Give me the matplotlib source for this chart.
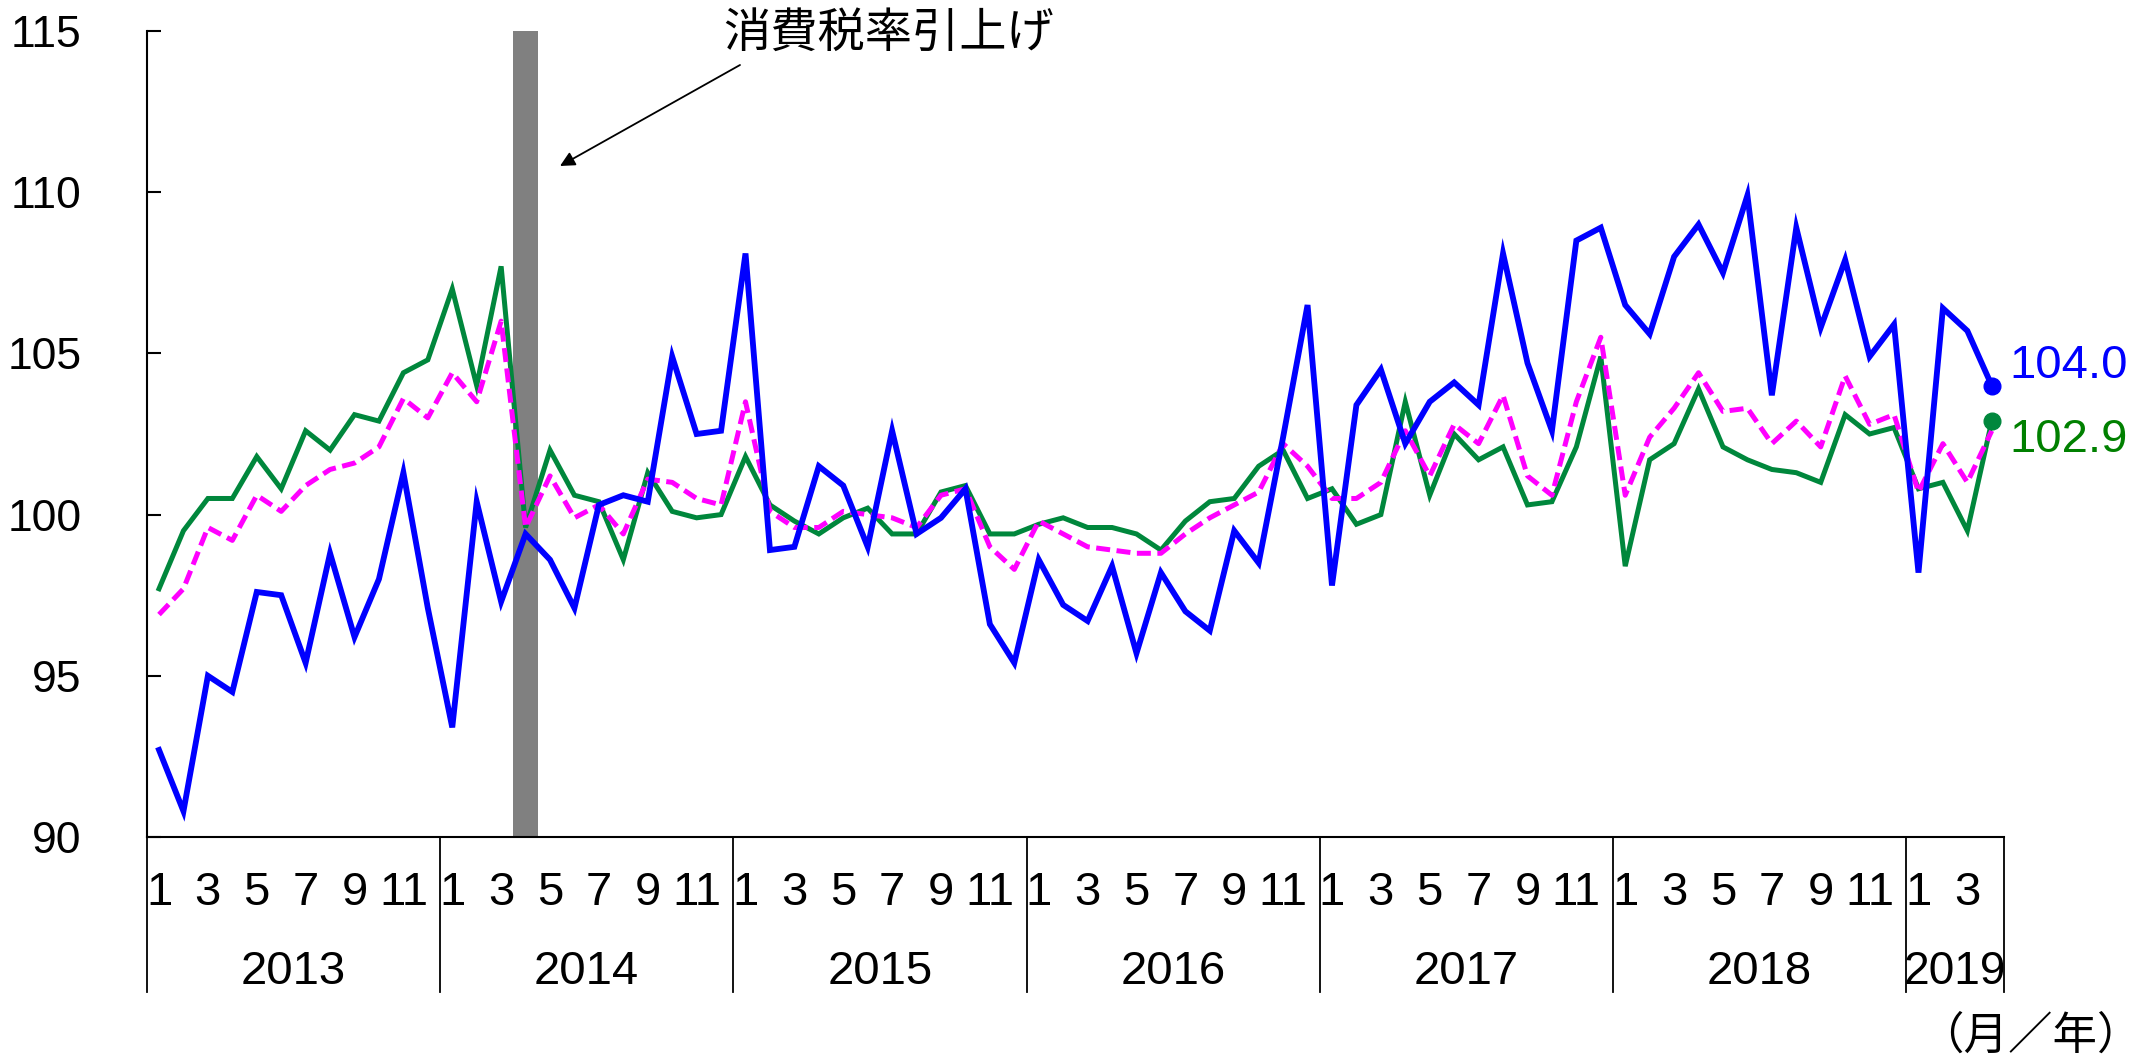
import numpy as np
import matplotlib
matplotlib.use('Agg')
import matplotlib.pyplot as plt
from matplotlib import font_manager
from matplotlib.transforms import blended_transform_factory

# ---------------- data ----------------
years = [2013, 2014, 2015, 2016, 2017, 2018, 2019]
months_per_year = [12, 12, 12, 12, 12, 12, 4]
labelled_months = [1, 3, 5, 7, 9, 11]
y_ticks = [90, 95, 100, 105, 110, 115]

blue_values = [
    92.7, 90.8, 95.0, 94.5, 97.6, 97.5, 95.4, 98.8, 96.2, 98.0, 101.3, 97.1,
    93.4, 100.4, 97.3, 99.4, 98.6, 97.1, 100.3, 100.6, 100.4, 104.9, 102.5, 102.6,
    108.1, 98.9, 99.0, 101.5, 100.9, 99.0, 102.6, 99.4, 99.9, 100.8, 96.6, 95.4,
    98.6, 97.2, 96.7, 98.4, 95.7, 98.2, 97.0, 96.4, 99.5, 98.5, 102.4, 106.5,
    97.8, 103.4, 104.5, 102.2, 103.5, 104.1, 103.4, 108.1, 104.7, 102.6, 108.5, 108.9,
    106.5, 105.6, 108.0, 109.0, 107.5, 109.9, 103.7, 108.9, 105.8, 107.9, 104.9, 105.9,
    98.2, 106.4, 105.7, 104.0,
]
green_values = [
    97.7, 99.5, 100.5, 100.5, 101.8, 100.8, 102.6, 102.0, 103.1, 102.9, 104.4, 104.8,
    107.0, 104.0, 107.7, 99.6, 102.0, 100.6, 100.4, 98.6, 101.3, 100.1, 99.9, 100.0,
    101.8, 100.3, 99.8, 99.4, 99.9, 100.2, 99.4, 99.4, 100.7, 100.9, 99.4, 99.4,
    99.7, 99.9, 99.6, 99.6, 99.4, 98.9, 99.8, 100.4, 100.5, 101.5, 102.0, 100.5,
    100.8, 99.7, 100.0, 103.5, 100.6, 102.5, 101.7, 102.1, 100.3, 100.4, 102.1, 104.9,
    98.4, 101.7, 102.2, 103.9, 102.1, 101.7, 101.4, 101.3, 101.0, 103.1, 102.5, 102.7,
    100.8, 101.0, 99.5, 102.9,
]
magenta_values = [
    96.9, 97.7, 99.6, 99.2, 100.6, 100.1, 100.9, 101.4, 101.6, 102.1, 103.6, 103.0,
    104.4, 103.5, 106.0, 99.6, 101.2, 99.9, 100.3, 99.4, 101.1, 101.0, 100.5, 100.3,
    103.5, 100.1, 99.6, 99.6, 100.1, 100.0, 99.9, 99.6, 100.6, 100.8, 99.0, 98.3,
    99.8, 99.4, 99.0, 98.9, 98.8, 98.8, 99.4, 99.9, 100.3, 100.7, 102.2, 101.5,
    100.5, 100.5, 101.0, 102.6, 101.2, 102.8, 102.2, 103.7, 101.2, 100.6, 103.5, 105.5,
    100.6, 102.4, 103.3, 104.4, 103.2, 103.3, 102.2, 102.9, 102.1, 104.3, 102.8, 103.1,
    100.7, 102.2, 101.0, 102.6,
]

tax_hike = (2014, 4)
annotation_text = '消費税率引上げ'
unit_text = '（月／年）'

# ---------------- fonts ----------------
names = {f.name for f in font_manager.fontManager.ttflist}
num_font = 'Liberation Sans Narrow' if 'Liberation Sans Narrow' in names else 'Liberation Sans'
narrow = num_font == 'Liberation Sans Narrow'
cjk = ['Noto Sans CJK JP', 'DejaVu Sans']

# ---------------- categories ----------------
cats = [(y, m) for y, n in zip(years, months_per_year) for m in range(1, n + 1)]
x = np.arange(len(cats))
ymin, ymax = y_ticks[0], y_ticks[-1]

W, H = 2145, 1055
fig = plt.figure(figsize=(W / 100, H / 100), dpi=100)
L, R, T, B = 146.8, 2004.0, 31.0, 837.0
ax = fig.add_axes([L / W, (H - B) / H, (R - L) / W, (B - T) / H])

ax.set_xlim(-0.5, len(cats) - 0.5)
ax.set_ylim(ymin, ymax)
month_px = (R - L) / len(cats)

# tax hike bar
tax_idx = cats.index(tax_hike)
ax.bar([tax_idx], [ymax - ymin], bottom=ymin, width=1.0, color='#808080', zorder=1)

green_c = '#00873C'
ax.plot(x, green_values, color=green_c, lw=3.6, zorder=3, solid_joinstyle='miter')
ax.plot(x, magenta_values, color='#FF00FF', lw=3.6, ls=(0, (2.8, 1.3)), zorder=4)
ax.plot(x, blue_values, color='#0000FF', lw=4.2, zorder=5, solid_joinstyle='miter')

# end markers and labels
ax.plot([x[-1]], [blue_values[-1]], 'o', color='#0000FF', ms=12, zorder=6, clip_on=False)
ax.plot([x[-1]], [green_values[-1]], 'o', color=green_c, ms=12, zorder=6, clip_on=False)
lab_fs = 36 if narrow else 34
ax.annotate(f'{blue_values[-1]:.1f}', (x[-1], blue_values[-1]), xytext=(13, 14),
            textcoords='offset points', ha='left', va='center', color='#0000FF',
            fontsize=lab_fs, family=num_font, annotation_clip=False)
ax.annotate(f'{green_values[-1]:.1f}', (x[-1], green_values[-1]), xytext=(13, -13.5),
            textcoords='offset points', ha='left', va='center', color='#008000',
            fontsize=lab_fs, family=num_font, annotation_clip=False)

# spines / ticks
for s in ['top', 'right']:
    ax.spines[s].set_visible(False)
for s in ['left', 'bottom']:
    ax.spines[s].set_linewidth(1.5)
ax.set_yticks(y_ticks)
ax.set_yticklabels([str(v) for v in y_ticks], fontsize=35 if narrow else 32, family=num_font)
ax.tick_params(axis='y', direction='in', length=10, width=1.5, pad=47)
ax.set_xticks([])

# category axis labels
trans = blended_transform_factory(ax.transData, ax.transAxes)
ax_h = B - T
month_base = -(905 - B) / ax_h
year_base = -(984 - B) / ax_h
sep_bottom = -(992 - B) / ax_h
x_fs = 36.5 if narrow else 34
digit_em = 0.456 if narrow else 0.556
for i, (yy, mm) in enumerate(cats):
    if mm in labelled_months:
        ax.text(i, month_base, str(mm), transform=trans, ha='center', va='baseline',
                fontsize=x_fs, family=num_font, clip_on=False)
start = 0
bounds = [-0.5]
for yy, n in zip(years, months_per_year):
    end = start + n
    span_px = n * month_px + 5
    fit_fs = span_px / (4 * digit_em) * 72 / 100
    ax.text((start - 0.5 + end - 0.5) / 2, year_base, str(yy), transform=trans,
            ha='center', va='baseline', fontsize=min(x_fs, fit_fs), family=num_font,
            clip_on=False)
    bounds.append(end - 0.5)
    start = end
for b in bounds:
    ax.plot([b, b], [0, sep_bottom], transform=trans, color='black', lw=1.3,
            clip_on=False, zorder=2)

# annotation
def px_to_data(px, py):
    xi = (px - L) / (R - L) * len(cats) - 0.5
    yv = ymax - (py - T) / (B - T) * (ymax - ymin)
    return xi, yv

ax.text(*px_to_data(889, 33.5), annotation_text, ha='center', va='center',
        fontsize=34, family=cjk, clip_on=False)
ax.annotate('', xy=px_to_data(560, 166), xytext=px_to_data(740, 65),
            arrowprops=dict(arrowstyle='-|>', color='black', lw=1.3,
                            mutation_scale=22, shrinkA=0, shrinkB=0),
            annotation_clip=False)

fig.text(2142 / W, (H - 1036) / H, unit_text, ha='right', va='center',
         fontsize=32, family=cjk)

fig.savefig('out.png', dpi=100)
